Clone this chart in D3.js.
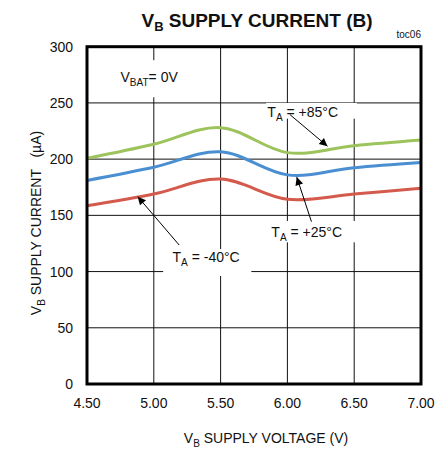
<!DOCTYPE html>
<html>
<head>
<meta charset="utf-8">
<script src="https://cdn.jsdelivr.net/npm/d3@7"></script>
<style>
  body { margin: 0; background: #fff; }
  text { font-family: "Liberation Sans", Arial, sans-serif; fill: #111; }
</style>
</head>
<body>
<script>
const width = 436;
const height = 449;
const margin = {top: 46.7, right: 15, bottom: 65, left: 87};

// supply voltage (V)
const voltages = [4.5, 5.0, 5.5, 6.0, 6.5, 7.0];
// supply current (uA) per temperature
const currentHot = [200.7, 213.2, 228, 205.8, 212, 217];
const currentRoom = [181, 192.7, 206.6, 186, 192.4, 197];
const currentCold = [158.6, 169, 182.3, 164.3, 169, 174];

const xTicks = [4.5, 5.0, 5.5, 6.0, 6.5, 7.0];
const yTicks = [0, 50, 100, 150, 200, 250, 300];

const series = [
  {name: "+85", values: currentHot, color: "#9dc35c"},
  {name: "+25", values: currentRoom, color: "#4a8fd1"},
  {name: "-40", values: currentCold, color: "#d35a4d"}
];

const svg = d3.select("body").append("svg")
  .attr("width", width)
  .attr("height", height);

const x = d3.scaleLinear().domain([4.5, 7.0]).range([margin.left, width - margin.right]);
const y = d3.scaleLinear().domain([0, 300]).range([height - margin.bottom, margin.top]);

// grid
svg.append("g").selectAll("line")
  .data(xTicks.slice(1, -1))
  .join("line")
  .attr("x1", d => x(d)).attr("x2", d => x(d))
  .attr("y1", y(300)).attr("y2", y(0))
  .attr("stroke", "#111").attr("stroke-width", 1);

svg.append("g").selectAll("line")
  .data(yTicks.slice(1, -1))
  .join("line")
  .attr("x1", x(4.5)).attr("x2", x(7.0))
  .attr("y1", d => y(d)).attr("y2", d => y(d))
  .attr("stroke", "#111").attr("stroke-width", 1);

// white boxes behind the annotations (they break the grid)
const boxes = [
  [4.73, 5.25, 288, 255],
  [5.84, 6.52, 250, 236],
  [5.84, 6.55, 145, 126],
  [5.07, 5.73, 120, 96]
];
svg.append("g").selectAll("rect")
  .data(boxes)
  .join("rect")
  .attr("x", d => x(d[0]))
  .attr("y", d => y(d[2]))
  .attr("width", d => x(d[1]) - x(d[0]))
  .attr("height", d => y(d[3]) - y(d[2]))
  .attr("fill", "#fff");

// curves (smoothed like the original spreadsheet lines)
const line = d3.line()
  .x((d, i) => x(voltages[i]))
  .y(d => y(d))
  .curve(d3.curveCardinal.tension(0));

svg.append("g").selectAll("path")
  .data(series)
  .join("path")
  .attr("d", d => line(d.values))
  .attr("fill", "none")
  .attr("stroke", d => d.color)
  .attr("stroke-width", 3);

// arrows
svg.append("defs").append("marker")
  .attr("id", "arrow")
  .attr("viewBox", "0 0 10 10")
  .attr("refX", 10).attr("refY", 5)
  .attr("markerWidth", 13).attr("markerHeight", 8)
  .attr("markerUnits", "userSpaceOnUse")
  .attr("orient", "auto")
  .append("path")
  .attr("d", "M0,0L10,5L0,10Z")
  .attr("fill", "#000");

const arrows = [
  [6.02, 239.5, 6.30, 211.5],
  [6.18, 144.4, 6.07, 184.0],
  [5.19, 123.6, 4.88, 166.6]
];
svg.append("g").selectAll("line")
  .data(arrows)
  .join("line")
  .attr("x1", d => x(d[0])).attr("y1", d => y(d[1]))
  .attr("x2", d => x(d[2])).attr("y2", d => y(d[3]))
  .attr("stroke", "#000").attr("stroke-width", 1)
  .attr("marker-end", "url(#arrow)");

// labels with subscripts
function subLabel(g, px, py, main, sub, rest, size) {
  const t = g.append("text").attr("x", px).attr("y", py).style("font-size", size + "px");
  t.append("tspan").text(main);
  t.append("tspan").text(sub).attr("dy", 4).style("font-size", (size * 0.72) + "px");
  t.append("tspan").text(rest).attr("dy", -4);
  return t;
}

const labels = [
  [4.75, 268.9, "V", "BAT", "= 0V"],
  [5.85, 237.2, "T", "A", " = +85°C"],
  [5.88, 131, "T", "A", " = +25°C"],
  [5.14, 108.8, "T", "A", " = -40°C"]
];
const lg = svg.append("g");
labels.forEach(d => subLabel(lg, x(d[0]), y(d[1]), d[2], d[3], d[4], 14));

// frame
svg.append("rect")
  .attr("x", x(4.5)).attr("y", y(300))
  .attr("width", x(7.0) - x(4.5)).attr("height", y(0) - y(300))
  .attr("fill", "none").attr("stroke", "#000").attr("stroke-width", 3);

// tick labels
svg.append("g").selectAll("text")
  .data(yTicks)
  .join("text")
  .attr("x", margin.left - 14)
  .attr("y", d => y(d))
  .attr("dy", "0.36em")
  .attr("text-anchor", "end")
  .style("font-size", "14px")
  .text(d => d);

svg.append("g").selectAll("text")
  .data(xTicks)
  .join("text")
  .attr("x", d => x(d))
  .attr("y", 408)
  .attr("text-anchor", "middle")
  .style("font-size", "14px")
  .text(d => d.toFixed(2));

// titles
const title = svg.append("text")
  .attr("x", 257).attr("y", 27)
  .attr("text-anchor", "middle")
  .style("font-family", "'Liberation Sans Narrow', 'Arial Narrow', sans-serif")
  .style("font-weight", "bold")
  .style("font-size", "19px");
title.append("tspan").text("V");
title.append("tspan").text("B").attr("dy", 4).style("font-size", "13px");
title.append("tspan").text(" SUPPLY CURRENT (B)").attr("dy", -4);

svg.append("text")
  .attr("x", x(7.0)).attr("y", 38)
  .attr("text-anchor", "end")
  .style("font-size", "10px")
  .text("toc06");

const xt = svg.append("text")
  .attr("x", 266).attr("y", 443)
  .attr("text-anchor", "middle")
  .style("font-size", "14px");
xt.append("tspan").text("V");
xt.append("tspan").text("B").attr("dy", 4).style("font-size", "10px");
xt.append("tspan").text(" SUPPLY VOLTAGE (V)").attr("dy", -4);

const yt = svg.append("text")
  .attr("transform", "translate(41,223) rotate(-90)")
  .attr("text-anchor", "middle")
  .style("white-space", "pre")
  .style("font-size", "14px");
yt.append("tspan").text("V");
yt.append("tspan").text("B").attr("dy", 4).style("font-size", "10px");
yt.append("tspan").text(" SUPPLY CURRENT   (µA)").attr("dy", -4);
</script>
</body>
</html>
